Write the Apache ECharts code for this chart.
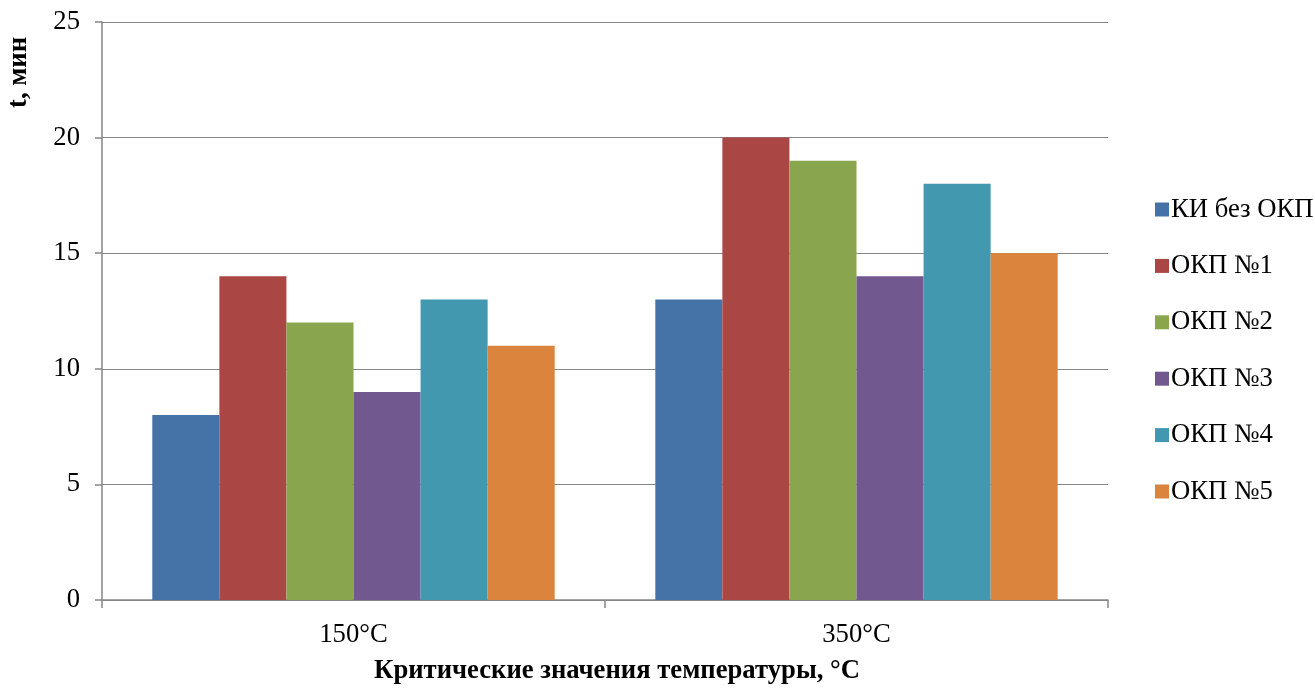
<!DOCTYPE html>
<html><head><meta charset="utf-8">
<script src="https://cdn.jsdelivr.net/npm/echarts@6/dist/echarts.min.js"></script>
<style>html,body{margin:0;padding:0;background:#fff}#c{width:1315px;height:690px}</style>
</head><body><div id="c"></div>
<script>
const categories = ['150°C', '350°C'];
const seriesNames = ['КИ без ОКП', 'ОКП №1', 'ОКП №2', 'ОКП №3', 'ОКП №4', 'ОКП №5'];
const kiBezOkp = [8, 13];
const okp1 = [14, 20];
const okp2 = [12, 19];
const okp3 = [9, 14];
const okp4 = [13, 18];
const okp5 = [11, 15];
const colors = ['#4572A7', '#AA4643', '#89A54E', '#71588F', '#4198AF', '#DB843D'];
const values = [kiBezOkp, okp1, okp2, okp3, okp4, okp5];
const font = '"Liberation Serif", "Times New Roman", serif';
const fs = 26.67;

const chart = echarts.init(document.getElementById('c'));
chart.setOption({
  animation: false,
  textStyle: { fontFamily: font },
  grid: { left: 102, top: 22, right: 207, bottom: 86, containLabel: false },
  legend: {
    orient: 'vertical', left: 1150, top: 191,
    itemWidth: 14, itemHeight: 14, itemGap: 29.4,
    icon: 'rect',
    textStyle: { fontFamily: font, fontSize: fs, lineHeight: 27, color: '#000', padding: [0, 0, 0, -3] },
    data: seriesNames
  },
  xAxis: {
    type: 'category', data: categories,
    axisLine: { lineStyle: { color: '#868686', width: 1.5 } },
    axisTick: { show: true, length: 8, lineStyle: { color: '#868686', width: 1.5 } },
    axisLabel: { fontFamily: font, fontSize: fs, color: '#000', margin: 21 },
    name: 'Критические значения температуры, °С',
    nameLocation: 'middle', nameGap: 58,
    nameTextStyle: { fontFamily: font, fontSize: fs, fontWeight: 'bold', color: '#000', padding: [0, 0, 0, 24] }
  },
  yAxis: {
    type: 'value', min: 0, max: 25, interval: 5,
    axisLine: { show: true, lineStyle: { color: '#868686', width: 1.5 } },
    axisTick: { show: true, length: 7, lineStyle: { color: '#868686', width: 1.5 } },
    splitLine: { lineStyle: { color: '#868686', width: 1.2 } },
    axisLabel: { fontFamily: font, fontSize: fs, color: '#000', margin: 22 }
  },
  graphic: [{
    type: 'text', x: 6, y: 108, rotation: Math.PI / 2,
    style: { text: 't, мин', font: 'bold ' + fs + 'px ' + font, fill: '#000', textAlign: 'left', textVerticalAlign: 'top' }
  }],
  series: seriesNames.map((n, i) => ({
    name: n, type: 'bar', data: values[i],
    barGap: '0%', barCategoryGap: '20%',
    itemStyle: { color: colors[i] }
  }))
});
</script></body></html>
